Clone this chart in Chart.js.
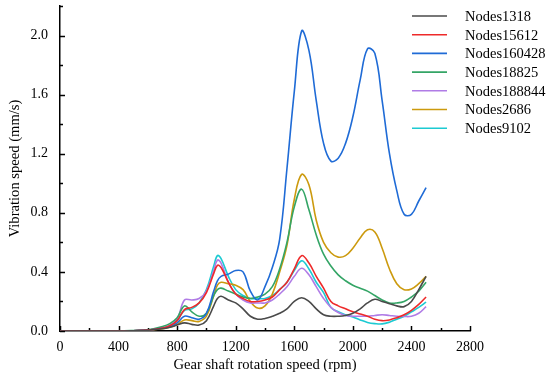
<!DOCTYPE html>
<html>
<head>
<meta charset="utf-8">
<script src="https://cdn.jsdelivr.net/npm/chart.js@4.4.0/dist/chart.umd.min.js"></script>
<style>
  body { margin: 0; background: #fff; }
  #wrap { width: 550px; height: 376px; }
</style>
</head>
<body>
<div id="wrap"><canvas id="miGrafico" width="550" height="376"></canvas></div>
<script>
// Velocidad del eje (rpm)
const rpm = [0, 200, 400, 500, 600, 700, 750, 800, 850, 900,
  950, 1000, 1050, 1075, 1100, 1150, 1200, 1250, 1300, 1350,
  1400, 1450, 1500, 1550, 1600, 1650, 1700, 1750, 1800, 1850,
  1900, 1950, 2000, 2050, 2100, 2150, 2200, 2250, 2300, 2350,
  2400, 2450, 2500];

const nodes1318 = [0, 0, 0, 0.002, 0.005, 0.015, 0.025, 0.04, 0.055, 0.045,
  0.04, 0.07, 0.17, 0.22, 0.235, 0.21, 0.19, 0.15, 0.1, 0.08,
  0.085, 0.1, 0.12, 0.15, 0.2, 0.225, 0.2, 0.15, 0.11, 0.1,
  0.1, 0.105, 0.12, 0.15, 0.19, 0.215, 0.2, 0.185, 0.17, 0.165,
  0.2, 0.28, 0.37];
const nodes15612 = [0, 0, 0, 0.002, 0.006, 0.02, 0.035, 0.07, 0.145, 0.16,
  0.19, 0.26, 0.39, 0.445, 0.43, 0.33, 0.25, 0.22, 0.2, 0.2,
  0.21, 0.23, 0.28, 0.33, 0.42, 0.51, 0.46, 0.37, 0.29, 0.2,
  0.17, 0.15, 0.13, 0.115, 0.1, 0.08, 0.07, 0.075, 0.09, 0.11,
  0.14, 0.18, 0.23];
const nodes160428 = [0, 0, 0, 0.002, 0.006, 0.02, 0.03, 0.055, 0.1, 0.09,
  0.08, 0.12, 0.27, 0.34, 0.37, 0.385, 0.41, 0.4, 0.27, 0.21,
  0.3, 0.43, 0.62, 1.1, 1.62, 2.03, 1.9, 1.56, 1.27, 1.15,
  1.17, 1.27, 1.45, 1.7, 1.91, 1.88, 1.56, 1.2, 0.95, 0.79,
  0.79, 0.88, 0.97];
const nodes18825 = [0, 0, 0, 0.003, 0.008, 0.03, 0.05, 0.09, 0.17, 0.13,
  0.1, 0.12, 0.24, 0.28, 0.29, 0.27, 0.25, 0.23, 0.22, 0.23,
  0.25, 0.3, 0.42, 0.6, 0.84, 0.96, 0.82, 0.65, 0.52, 0.44,
  0.38, 0.34, 0.31, 0.29, 0.27, 0.24, 0.21, 0.19, 0.19, 0.2,
  0.23, 0.27, 0.33];
const nodes188844 = [0, 0, 0, 0.002, 0.006, 0.02, 0.04, 0.08, 0.21, 0.21,
  0.22, 0.27, 0.41, 0.48, 0.46, 0.33, 0.25, 0.21, 0.19, 0.19,
  0.19, 0.21, 0.25, 0.3, 0.37, 0.425, 0.38, 0.3, 0.22, 0.16,
  0.125, 0.105, 0.1, 0.1, 0.1, 0.105, 0.11, 0.105, 0.1, 0.098,
  0.1, 0.12, 0.165];
const nodes2686 = [0, 0, 0, 0.002, 0.005, 0.015, 0.025, 0.045, 0.075, 0.07,
  0.065, 0.1, 0.24, 0.31, 0.33, 0.32, 0.31, 0.28, 0.2, 0.155,
  0.17, 0.25, 0.4, 0.58, 0.89, 1.06, 0.99, 0.75, 0.6, 0.53,
  0.5, 0.51, 0.56, 0.63, 0.685, 0.67, 0.56, 0.42, 0.32, 0.28,
  0.285, 0.32, 0.37];
const nodes9102 = [0, 0, 0, 0.002, 0.006, 0.02, 0.035, 0.07, 0.14, 0.15,
  0.19, 0.28, 0.44, 0.51, 0.49, 0.37, 0.28, 0.24, 0.22, 0.22,
  0.22, 0.24, 0.28, 0.33, 0.41, 0.475, 0.42, 0.33, 0.26, 0.16,
  0.13, 0.11, 0.095, 0.075, 0.058, 0.05, 0.048, 0.06, 0.08, 0.1,
  0.13, 0.16, 0.195];

const xTicks = [0, 400, 800, 1200, 1600, 2000, 2400, 2800];
const yTicks = [0, 0.4, 0.8, 1.2, 1.6, 2.0];

const series = [
  { label: 'Nodes1318', data: nodes1318, color: '#4a4a4a' },
  { label: 'Nodes15612', data: nodes15612, color: '#ee2a2a' },
  { label: 'Nodes160428', data: nodes160428, color: '#1f6bd6' },
  { label: 'Nodes18825', data: nodes18825, color: '#34a566' },
  { label: 'Nodes188844', data: nodes188844, color: '#b07ce6' },
  { label: 'Nodes2686', data: nodes2686, color: '#cc9a0e' },
  { label: 'Nodes9102', data: nodes9102, color: '#1ccad2' }
];

const fuente = 'Liberation Serif, Times New Roman, serif';

// Marcas de los ejes hacia dentro (mayores y menores)
const ticksHaciaDentro = {
  id: 'ticksHaciaDentro',
  beforeDatasetsDraw(chart) {
    const ctx = chart.ctx;
    const xs = chart.scales.x;
    const ys = chart.scales.y;
    const area = chart.chartArea;
    ctx.save();
    ctx.strokeStyle = '#000';
    ctx.lineWidth = 1.5;
    for (let v = 0; v <= 2800; v += 200) {
      const px = Math.round(xs.getPixelForValue(v)) + 0.5;
      const len = (v % 400 === 0) ? 5 : 3;
      ctx.beginPath();
      ctx.moveTo(px, area.bottom);
      ctx.lineTo(px, area.bottom - len);
      ctx.stroke();
    }
    for (let i = 0; i <= 11; i++) {
      const v = i * 0.2;
      const py = Math.round(ys.getPixelForValue(v)) + 0.5;
      const len = (i % 2 === 0) ? 5 : 3;
      ctx.beginPath();
      ctx.moveTo(area.left, py);
      ctx.lineTo(area.left + len, py);
      ctx.stroke();
    }
    ctx.restore();
  }
};

// Leyenda propia arriba a la derecha
const leyenda = {
  id: 'leyenda',
  afterDraw(chart) {
    const ctx = chart.ctx;
    ctx.save();
    ctx.font = '14.5px ' + fuente;
    ctx.textBaseline = 'middle';
    chart.data.datasets.forEach(function (ds, i) {
      const y = 16 + i * 18.7;
      ctx.strokeStyle = ds.borderColor;
      ctx.lineWidth = 1.6;
      ctx.beginPath();
      ctx.moveTo(412, y);
      ctx.lineTo(447, y);
      ctx.stroke();
      ctx.fillStyle = '#000';
      ctx.fillText(ds.label, 465, y + 1);
    });
    ctx.restore();
  }
};

const ctx = document.getElementById('miGrafico').getContext('2d');
new Chart(ctx, {
  type: 'line',
  data: {
    datasets: series.map(function (s) {
      return {
        label: s.label,
        data: s.data.map(function (v, i) { return { x: rpm[i], y: v }; }),
        borderColor: s.color,
        backgroundColor: s.color,
        borderWidth: 1.6,
        pointRadius: 0,
        tension: 0.4,
        fill: false
      };
    })
  },
  options: {
    responsive: false,
    animation: false,
    layout: { padding: { top: 6, right: 80, left: 0, bottom: 0 } },
    plugins: {
      legend: { display: false },
      tooltip: { enabled: false }
    },
    scales: {
      x: {
        type: 'linear',
        min: 0,
        max: 2800,
        afterBuildTicks: function (axis) {
          axis.ticks = xTicks.map(function (v) { return { value: v }; });
        },
        afterFit: function (axis) {
          axis.height = 45;
          axis.paddingLeft = 0;
          axis.paddingRight = 0;
        },
        grid: { display: false, drawTicks: false },
        border: { display: true, color: '#000', width: 1.5 },
        ticks: {
          color: '#000',
          padding: 8,
          maxRotation: 0,
          font: { family: fuente, size: 14 },
          callback: function (v) { return String(v); }
        },
        title: {
          display: true,
          text: 'Gear shaft rotation speed (rpm)',
          color: '#000',
          padding: { top: 0, bottom: 2 },
          font: { family: fuente, size: 14.6 }
        }
      },
      y: {
        min: 0,
        max: 2.2,
        afterBuildTicks: function (axis) {
          axis.ticks = yTicks.map(function (v) { return { value: v }; });
        },
        afterFit: function (axis) {
          axis.width = 60;
          axis.paddingTop = 0;
          axis.paddingBottom = 0;
        },
        grid: { display: false, drawTicks: false },
        border: { display: true, color: '#000', width: 1.5 },
        ticks: {
          color: '#000',
          padding: 12,
          font: { family: fuente, size: 14 },
          callback: function (v) { return Number(v).toFixed(1); }
        },
        title: {
          display: true,
          text: 'Vibration speed (mm/s)',
          color: '#000',
          padding: { top: 6, bottom: 0 },
          font: { family: fuente, size: 14.6 }
        }
      }
    }
  },
  plugins: [ticksHaciaDentro, leyenda]
});
</script>
</body>
</html>
